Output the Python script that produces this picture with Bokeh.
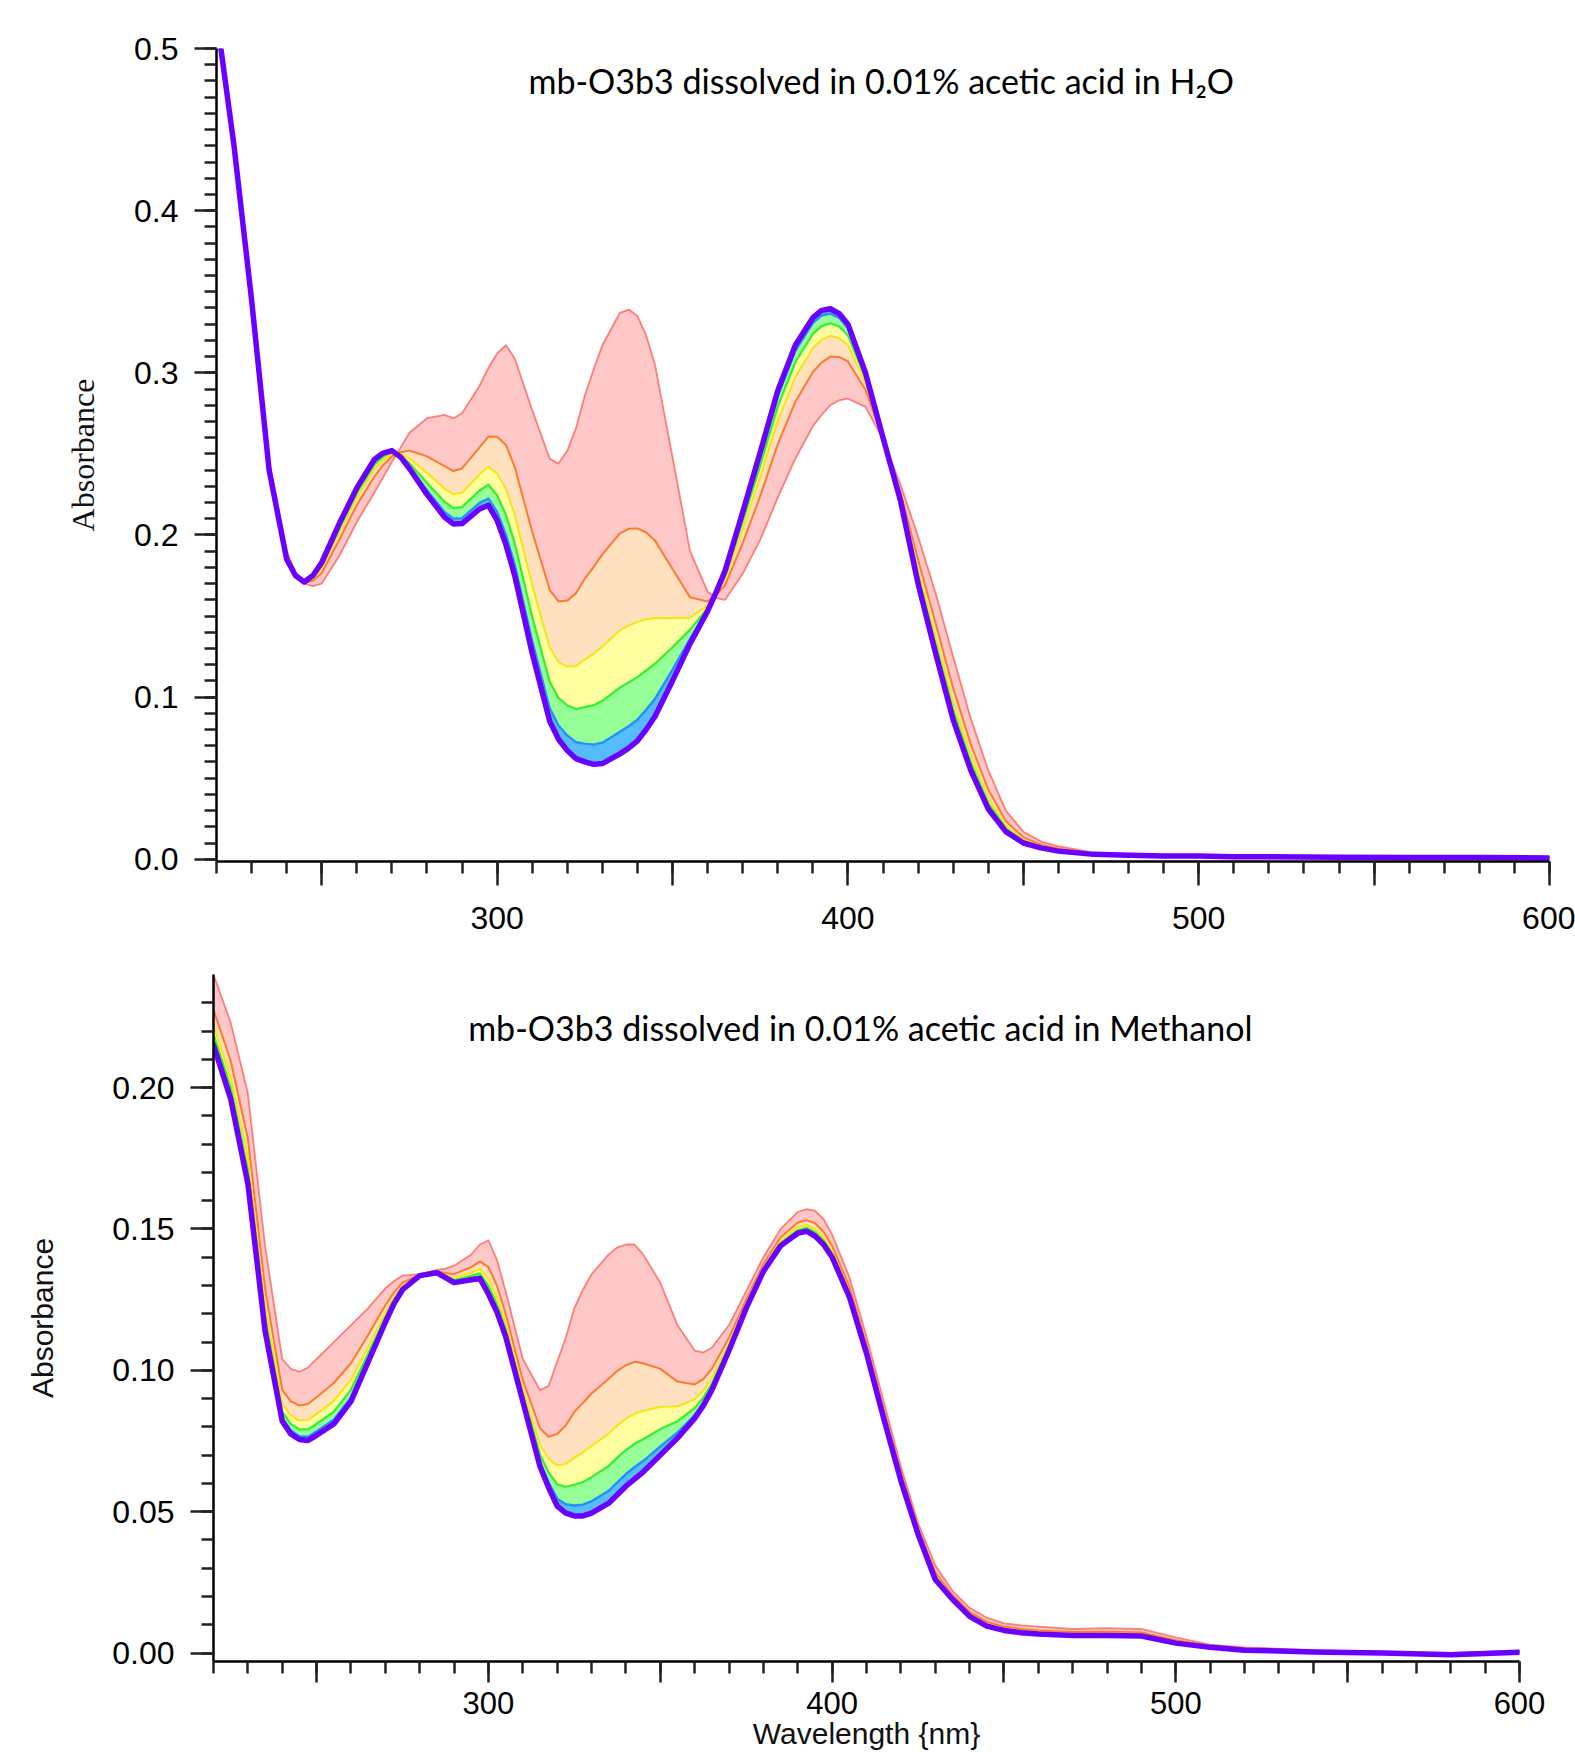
from bokeh.plotting import figure
from bokeh.models import ColumnDataSource, SingleIntervalTicker, NumeralTickFormatter, Label, Range1d
from bokeh.embed import file_html
from bokeh.resources import INLINE

# ---------------- data ----------------
wavelength = [220, 225, 230, 235, 240, 245, 250, 255, 260, 265,
              270, 275, 280, 285, 290, 295, 300, 305, 310, 315,
              320, 325, 330, 335, 340, 345, 350, 355, 360, 365,
              370, 375, 380, 385, 390, 395, 400, 405, 410, 415,
              420, 425, 430, 435, 440, 445, 450, 455, 460,
              470, 480, 490, 500, 510, 520, 540, 560, 580, 600]
# extra readings taken around the peaks and valleys
wavelength_extra = [242.5, 247.5, 267.5, 272.5, 287.5, 297.5, 302.5, 317.5,
                    322.5, 327.5, 337.5, 342.5, 362.5, 392.5, 397.5]

# mb-O3b3 in 0.01% acetic acid in H2O : successive spectra (first -> last)
h2o_t0 = [0.52, 0.44, 0.347, 0.245, 0.190, 0.170, 0.170, 0.187, 0.208, 0.226,
          0.245, 0.263, 0.272, 0.274, 0.275, 0.292, 0.312, 0.309, 0.277, 0.247,
          0.252, 0.286, 0.317, 0.337, 0.335, 0.305, 0.248, 0.190, 0.165, 0.160,
          0.176, 0.197, 0.223, 0.247, 0.267, 0.280, 0.284, 0.279, 0.259, 0.231,
          0.199, 0.164, 0.125, 0.087, 0.055, 0.030, 0.017, 0.011, 0.008,
          0.004, 0.003, 0.0025, 0.002, 0.002, 0.0018, 0.0015, 0.0012, 0.001, 0.001]
h2o_t1 = [0.52, 0.44, 0.346, 0.2425, 0.1875, 0.1705, 0.1765, 0.197, 0.2185, 0.236,
          0.2485, 0.252, 0.2485, 0.2425, 0.241, 0.254, 0.2605, 0.242, 0.202, 0.166,
          0.1595, 0.173, 0.188, 0.201, 0.204, 0.1965, 0.179, 0.1615, 0.159, 0.169,
          0.195, 0.224, 0.256, 0.282, 0.3005, 0.310, 0.307, 0.2895, 0.2595, 0.226,
          0.1845, 0.1455, 0.1055, 0.071, 0.043, 0.0235, 0.0135, 0.009, 0.0065,
          0.0035, 0.0028, 0.0023, 0.002, 0.0018, 0.0017, 0.0014, 0.0011, 0.001, 0.0009]
h2o_t2 = [0.52, 0.44, 0.3456, 0.2414, 0.1864, 0.1707, 0.1794, 0.2014, 0.2231, 0.2408,
          0.2500, 0.2472, 0.2382, 0.2286, 0.2260, 0.2373, 0.2378, 0.2125, 0.169, 0.1304,
          0.1188, 0.1233, 0.1312, 0.1412, 0.1464, 0.1488, 0.1486, 0.1490, 0.1564, 0.1730,
          0.2034, 0.2359, 0.2705, 0.2974, 0.3152, 0.3228, 0.3171, 0.2941, 0.2597, 0.2238,
          0.1781, 0.1374, 0.0969, 0.0640, 0.0377, 0.0206, 0.0120, 0.0081, 0.0058,
          0.0033, 0.0026, 0.0021, 0.002, 0.0016, 0.0016, 0.0013, 0.001, 0.001, 0.0008]
h2o_t3 = [0.52, 0.44, 0.3453, 0.2408, 0.1858, 0.1709, 0.1811, 0.2040, 0.2259, 0.2434,
          0.2510, 0.2443, 0.2321, 0.2205, 0.2172, 0.2274, 0.2245, 0.1951, 0.1495, 0.1093,
          0.0948, 0.0939, 0.0977, 0.1058, 0.1123, 0.1206, 0.1307, 0.1416, 0.1548, 0.1753,
          0.2083, 0.2429, 0.2791, 0.3065, 0.3240, 0.3306, 0.3231, 0.2969, 0.2599, 0.2225,
          0.1744, 0.1326, 0.0919, 0.0598, 0.0346, 0.0190, 0.0111, 0.0076, 0.0055,
          0.0031, 0.0025, 0.002, 0.002, 0.0015, 0.0015, 0.0012, 0.001, 0.001, 0.0008]
h2o_t4 = [0.52, 0.44, 0.3451, 0.2403, 0.1853, 0.1710, 0.1824, 0.2060, 0.2280, 0.2455,
          0.2517, 0.2421, 0.2274, 0.2142, 0.2104, 0.2198, 0.2142, 0.1817, 0.1345, 0.0931,
          0.0763, 0.0713, 0.0719, 0.0786, 0.0861, 0.0989, 0.1169, 0.1359, 0.1536, 0.1771,
          0.2121, 0.2483, 0.2857, 0.3135, 0.3307, 0.3365, 0.3277, 0.2990, 0.2600, 0.2215,
          0.1715, 0.1289, 0.0880, 0.0566, 0.0322, 0.0177, 0.0104, 0.0072, 0.0052,
          0.003, 0.0025, 0.002, 0.002, 0.0015, 0.0015, 0.0012, 0.001, 0.001, 0.0008]
h2o_t5 = [0.52, 0.44, 0.345, 0.240, 0.185, 0.171, 0.183, 0.207, 0.229, 0.2465,
          0.252, 0.241, 0.225, 0.211, 0.207, 0.216, 0.209, 0.175, 0.127, 0.085,
          0.067, 0.060, 0.059, 0.065, 0.073, 0.088, 0.110, 0.133, 0.153, 0.178,
          0.214, 0.251, 0.289, 0.317, 0.334, 0.3395, 0.330, 0.300, 0.260, 0.221,
          0.170, 0.127, 0.086, 0.055, 0.031, 0.017, 0.010, 0.007, 0.005,
          0.003, 0.0025, 0.002, 0.002, 0.0015, 0.0015, 0.0012, 0.001, 0.001, 0.0008]

h2o_t0_extra = [0.177, 0.1685, 0.2355, 0.254, 0.272, 0.303, 0.317, 0.244,
                0.266, 0.302, 0.339, 0.323, 0.161, 0.274, 0.283]
h2o_t1_extra = [0.176, 0.1718, 0.243, 0.251, 0.2394, 0.2607, 0.2555, 0.159,
                0.164, 0.1802, 0.2038, 0.2015, 0.163, 0.3063, 0.3098]
h2o_t2_extra = [0.1756, 0.1732, 0.2463, 0.2497, 0.2251, 0.2420, 0.2284, 0.1216,
                0.1191, 0.1267, 0.1442, 0.1480, 0.1639, 0.3204, 0.3215]
h2o_t3_extra = [0.1753, 0.1740, 0.2483, 0.2489, 0.2166, 0.2310, 0.2125, 0.0995,
                0.0926, 0.0950, 0.1091, 0.1165, 0.1644, 0.3288, 0.3285]
h2o_t4_extra = [0.1751, 0.1747, 0.2498, 0.2483, 0.2101, 0.2225, 0.2002, 0.0825,
                0.0722, 0.0707, 0.0820, 0.0922, 0.1648, 0.3353, 0.3338]
h2o_t5_extra = [0.175, 0.175, 0.2505, 0.248, 0.2068, 0.2183, 0.194, 0.074,
                0.062, 0.0585, 0.0685, 0.080, 0.165, 0.3385, 0.3365]

# mb-O3b3 in 0.01% acetic acid in Methanol : successive spectra (first -> last)
meoh_t0 = [0.240, 0.223, 0.198, 0.144, 0.104, 0.0995, 0.104, 0.110, 0.116, 0.122,
           0.129, 0.1335, 0.134, 0.1355, 0.137, 0.141, 0.146, 0.128, 0.104, 0.093,
           0.103, 0.122, 0.134, 0.141, 0.1445, 0.141, 0.131, 0.116, 0.107, 0.108,
           0.116, 0.128, 0.140, 0.150, 0.156, 0.1565, 0.148, 0.133, 0.112, 0.089,
           0.066, 0.046, 0.031, 0.022, 0.016, 0.0125, 0.0105, 0.0098, 0.0093,
           0.0085, 0.0088, 0.0085, 0.0055, 0.003, 0.002, 0.001, 0.0005, 0.0, 0.0008]
meoh_t1 = [0.2275, 0.2095, 0.182, 0.129, 0.093, 0.0875, 0.0905, 0.0955, 0.1025, 0.1125,
           0.123, 0.131, 0.1338, 0.135, 0.134, 0.1365, 0.1365, 0.120, 0.0965, 0.0795,
           0.0775, 0.0853, 0.0918, 0.097, 0.1018, 0.1025, 0.1005, 0.096, 0.095, 0.1005,
           0.1115, 0.125, 0.1375, 0.147, 0.1523, 0.152, 0.144, 0.1295, 0.109, 0.086,
           0.0635, 0.044, 0.0285, 0.0205, 0.0145, 0.011, 0.0093, 0.0085, 0.008,
           0.0074, 0.0075, 0.0073, 0.0045, 0.0025, 0.0015, 0.0007, 0.0003, -0.0003, 0.0006]
meoh_t2 = [0.222, 0.2036, 0.175, 0.1224, 0.0882, 0.0822, 0.0846, 0.0891, 0.0966, 0.1083,
           0.1204, 0.1299, 0.1336, 0.1348, 0.1327, 0.1345, 0.1323, 0.1165, 0.0932, 0.0736,
           0.0663, 0.0691, 0.0732, 0.0776, 0.0829, 0.0856, 0.0871, 0.0872, 0.0897, 0.0972,
           0.1095, 0.1237, 0.1364, 0.1457, 0.1506, 0.150, 0.1422, 0.128, 0.1077, 0.0847,
           0.0624, 0.0431, 0.0274, 0.0198, 0.0138, 0.0103, 0.0087, 0.0079, 0.0074,
           0.0068, 0.0069, 0.0067, 0.0041, 0.0023, 0.0013, 0.0006, 0.0001, -0.0004, 0.0004]
meoh_t3 = [0.2188, 0.2001, 0.1708, 0.1185, 0.0853, 0.0791, 0.0811, 0.0854, 0.0931, 0.1059,
           0.1188, 0.1293, 0.1336, 0.1347, 0.1319, 0.1334, 0.1299, 0.1144, 0.0913, 0.0701,
           0.0597, 0.0595, 0.0622, 0.0662, 0.0718, 0.0756, 0.0792, 0.082, 0.0866, 0.0953,
           0.1084, 0.1229, 0.1358, 0.1449, 0.1496, 0.1489, 0.1412, 0.1271, 0.1069, 0.0839,
           0.0618, 0.0426, 0.0268, 0.0195, 0.0135, 0.010, 0.0084, 0.0076, 0.0071,
           0.0065, 0.0066, 0.0064, 0.0038, 0.0021, 0.0012, 0.0005, 0.0001, -0.0005, 0.0004]
meoh_t4 = [0.2163, 0.1974, 0.1676, 0.1155, 0.0831, 0.0767, 0.0784, 0.0825, 0.0904, 0.104,
           0.1176, 0.1288, 0.1335, 0.1345, 0.1313, 0.1325, 0.128, 0.1128, 0.0898, 0.0674,
           0.0546, 0.0522, 0.0537, 0.0574, 0.0633, 0.0679, 0.0731, 0.078, 0.0842, 0.0938,
           0.1075, 0.1223, 0.1353, 0.1443, 0.1489, 0.148, 0.1404, 0.1264, 0.1063, 0.0833,
           0.0613, 0.0422, 0.0263, 0.0192, 0.0132, 0.0097, 0.0081, 0.0073, 0.0068,
           0.0063, 0.0063, 0.0061, 0.0036, 0.002, 0.001, 0.0004, 0.0, -0.0006, 0.0003]
meoh_t5 = [0.215, 0.196, 0.166, 0.114, 0.082, 0.0755, 0.077, 0.081, 0.089, 0.103,
           0.117, 0.1285, 0.1335, 0.1345, 0.131, 0.132, 0.127, 0.112, 0.089, 0.066,
           0.052, 0.0485, 0.0495, 0.053, 0.059, 0.064, 0.070, 0.076, 0.083, 0.093,
           0.107, 0.122, 0.135, 0.144, 0.1485, 0.1475, 0.140, 0.126, 0.106, 0.083,
           0.061, 0.042, 0.026, 0.019, 0.013, 0.0095, 0.008, 0.0072, 0.0067,
           0.0062, 0.0062, 0.006, 0.0035, 0.002, 0.001, 0.0004, 0.0, -0.0006, 0.0003]

meoh_t0_extra = [0.1005, 0.101, 0.1255, 0.1315, 0.136, 0.1445, 0.139, 0.0945,
                 0.1115, 0.1285, 0.1435, 0.1445, 0.1063, 0.157, 0.1535]
meoh_t1_extra = [0.089, 0.0881, 0.1178, 0.1275, 0.1344, 0.1385, 0.1298, 0.0765,
                 0.0805, 0.0885, 0.0998, 0.103, 0.0969, 0.1531, 0.149]
meoh_t2_extra = [0.0839, 0.0824, 0.1143, 0.1257, 0.1337, 0.1359, 0.1257, 0.0686,
                 0.0669, 0.0709, 0.0805, 0.0847, 0.0928, 0.1514, 0.147]
meoh_t3_extra = [0.081, 0.0791, 0.1123, 0.1247, 0.1333, 0.1343, 0.1233, 0.0639,
                 0.0588, 0.0605, 0.0691, 0.074, 0.0903, 0.1504, 0.1459]
meoh_t4_extra = [0.0787, 0.0765, 0.1108, 0.1239, 0.133, 0.1331, 0.1214, 0.0603,
                 0.0526, 0.0525, 0.0604, 0.0657, 0.0884, 0.1496, 0.1449]
meoh_t5_extra = [0.0775, 0.0752, 0.110, 0.1235, 0.1328, 0.1325, 0.1205, 0.0585,
                 0.0495, 0.0485, 0.056, 0.0615, 0.0875, 0.1492, 0.1445]

title_top = "mb-O3b3 dissolved in 0.01% acetic acid in H\u2082O"
title_bottom = "mb-O3b3 dissolved in 0.01% acetic acid in Methanol"

# ---------------- styling ----------------
LINE_COLORS = ["#ff3a30", "#ff6a10", "#f2e400", "#22ee22", "#1e8cff", "#6a00ff"]
LINE_ALPHA = [0.6, 0.85, 0.9, 0.9, 0.95, 1.0]
LINE_WIDTH = [1.8, 2.0, 2.0, 2.2, 2.4, 5.5]
BAND_COLORS = ["#ff2a2a", "#ff9a30", "#ffff30", "#30ff30", "#10a0ff"]
BAND_ALPHA = [0.26, 0.30, 0.45, 0.5, 0.7]

TICK_FONT = "Liberation Sans"


def merged(main, extra):
    pairs = sorted(zip(wavelength + wavelength_extra, main + extra))
    return [p[1] for p in pairs]


def draw_spectra(p, spectra):
    xs = sorted(wavelength + wavelength_extra)
    src = ColumnDataSource({"x": xs, **{f"s{i}": s for i, s in enumerate(spectra)}})
    for i in range(len(spectra) - 1):
        p.varea(x="x", y1=f"s{i}", y2=f"s{i+1}", source=src,
                fill_color=BAND_COLORS[i], fill_alpha=BAND_ALPHA[i])
    for i in range(len(spectra)):
        p.line(x="x", y=f"s{i}", source=src, line_color=LINE_COLORS[i],
               line_alpha=LINE_ALPHA[i], line_width=LINE_WIDTH[i],
               line_join="round", line_cap="round")


def style_axes(p, y_interval, y_minor, y_fmt, ylabel_font, ylabel_size, ylabel_standoff,
               x_tick_out, y_tick_out, x_standoff, x_font):
    p.xaxis.ticker = SingleIntervalTicker(interval=50, num_minor_ticks=5)
    p.xaxis.major_label_overrides = {250: "", 350: "", 450: "", 550: ""}
    p.xaxis.formatter = NumeralTickFormatter(format="0")
    p.yaxis.ticker = SingleIntervalTicker(interval=y_interval, num_minor_ticks=y_minor)
    p.yaxis.formatter = NumeralTickFormatter(format=y_fmt)
    for ax in (p.xaxis[0], p.yaxis[0]):
        ax.axis_line_color = "black"
        ax.axis_line_width = 2.5
        ax.major_tick_line_color = "#222222"
        ax.minor_tick_line_color = "#222222"
        ax.major_tick_line_width = 2.5
        ax.minor_tick_line_width = 2.5
        ax.major_tick_in = 0
        ax.minor_tick_in = 0
        ax.major_label_text_font = TICK_FONT
        ax.major_label_text_font_size = "32px"
        ax.major_label_text_color = "black"
    p.xaxis.major_label_text_font_size = x_font
    p.xaxis.major_tick_out = x_tick_out
    p.xaxis.minor_tick_out = 12
    p.yaxis.major_tick_out = y_tick_out
    p.yaxis.minor_tick_out = 12
    p.xaxis.major_label_standoff = x_standoff
    p.yaxis.major_label_standoff = 16
    p.yaxis.axis_label = "Absorbance"
    p.yaxis.axis_label_text_font = ylabel_font
    p.yaxis.axis_label_text_font_size = ylabel_size
    p.yaxis.axis_label_text_font_style = "normal"
    p.yaxis.axis_label_text_color = "#111111"
    p.yaxis.axis_label_standoff = ylabel_standoff
    p.xgrid.visible = False
    p.ygrid.visible = False
    p.outline_line_color = None


# ---------------- top panel ----------------
p1 = figure(width=1575, height=942, output_backend="svg", toolbar_location=None,
            x_range=Range1d(220, 600), y_range=Range1d(-0.0014, 0.5),
            min_border_left=216, min_border_right=26, min_border_top=48, min_border_bottom=81,
            background_fill_color="white", border_fill_color="white")
draw_spectra(p1, [merged(h2o_t0, h2o_t0_extra), merged(h2o_t1, h2o_t1_extra),
                  merged(h2o_t2, h2o_t2_extra), merged(h2o_t3, h2o_t3_extra),
                  merged(h2o_t4, h2o_t4_extra), merged(h2o_t5, h2o_t5_extra)])
style_axes(p1, 0.1, 10, "0.0", "Liberation Serif", "32px", 30, 24, 22, 21, "32px")
p1.add_layout(Label(x=409.5, y=0.4805, text=title_top, text_align="center",
                    text_baseline="middle", text_font="Lato", text_font_size="34px",
                    text_color="black"))

# ---------------- bottom panel ----------------
p2 = figure(width=1575, height=818, output_backend="svg", toolbar_location=None,
            x_range=Range1d(220, 600), y_range=Range1d(-0.003, 0.24),
            min_border_left=213, min_border_right=56, min_border_top=32, min_border_bottom=99,
            background_fill_color="white", border_fill_color="white")
draw_spectra(p2, [merged(meoh_t0, meoh_t0_extra), merged(meoh_t1, meoh_t1_extra),
                  merged(meoh_t2, meoh_t2_extra), merged(meoh_t3, meoh_t3_extra),
                  merged(meoh_t4, meoh_t4_extra), merged(meoh_t5, meoh_t5_extra)])
style_axes(p2, 0.05, 5, "0.00", "Liberation Sans", "30px", 50, 21, 23, 9, "31px")
p2.xaxis.axis_label = "Wavelength {nm}"
p2.xaxis.axis_label_text_font = "Liberation Sans"
p2.xaxis.axis_label_text_font_size = "30px"
p2.xaxis.axis_label_text_font_style = "normal"
p2.xaxis.axis_label_text_color = "#111111"
p2.xaxis.axis_label_standoff = 0
p2.add_layout(Label(x=408.2, y=0.2211, text=title_bottom, text_align="center",
                    text_baseline="middle", text_font="Lato", text_font_size="34px",
                    text_color="black"))

open("out.html", "w").write(file_html((p1, p2), INLINE))
